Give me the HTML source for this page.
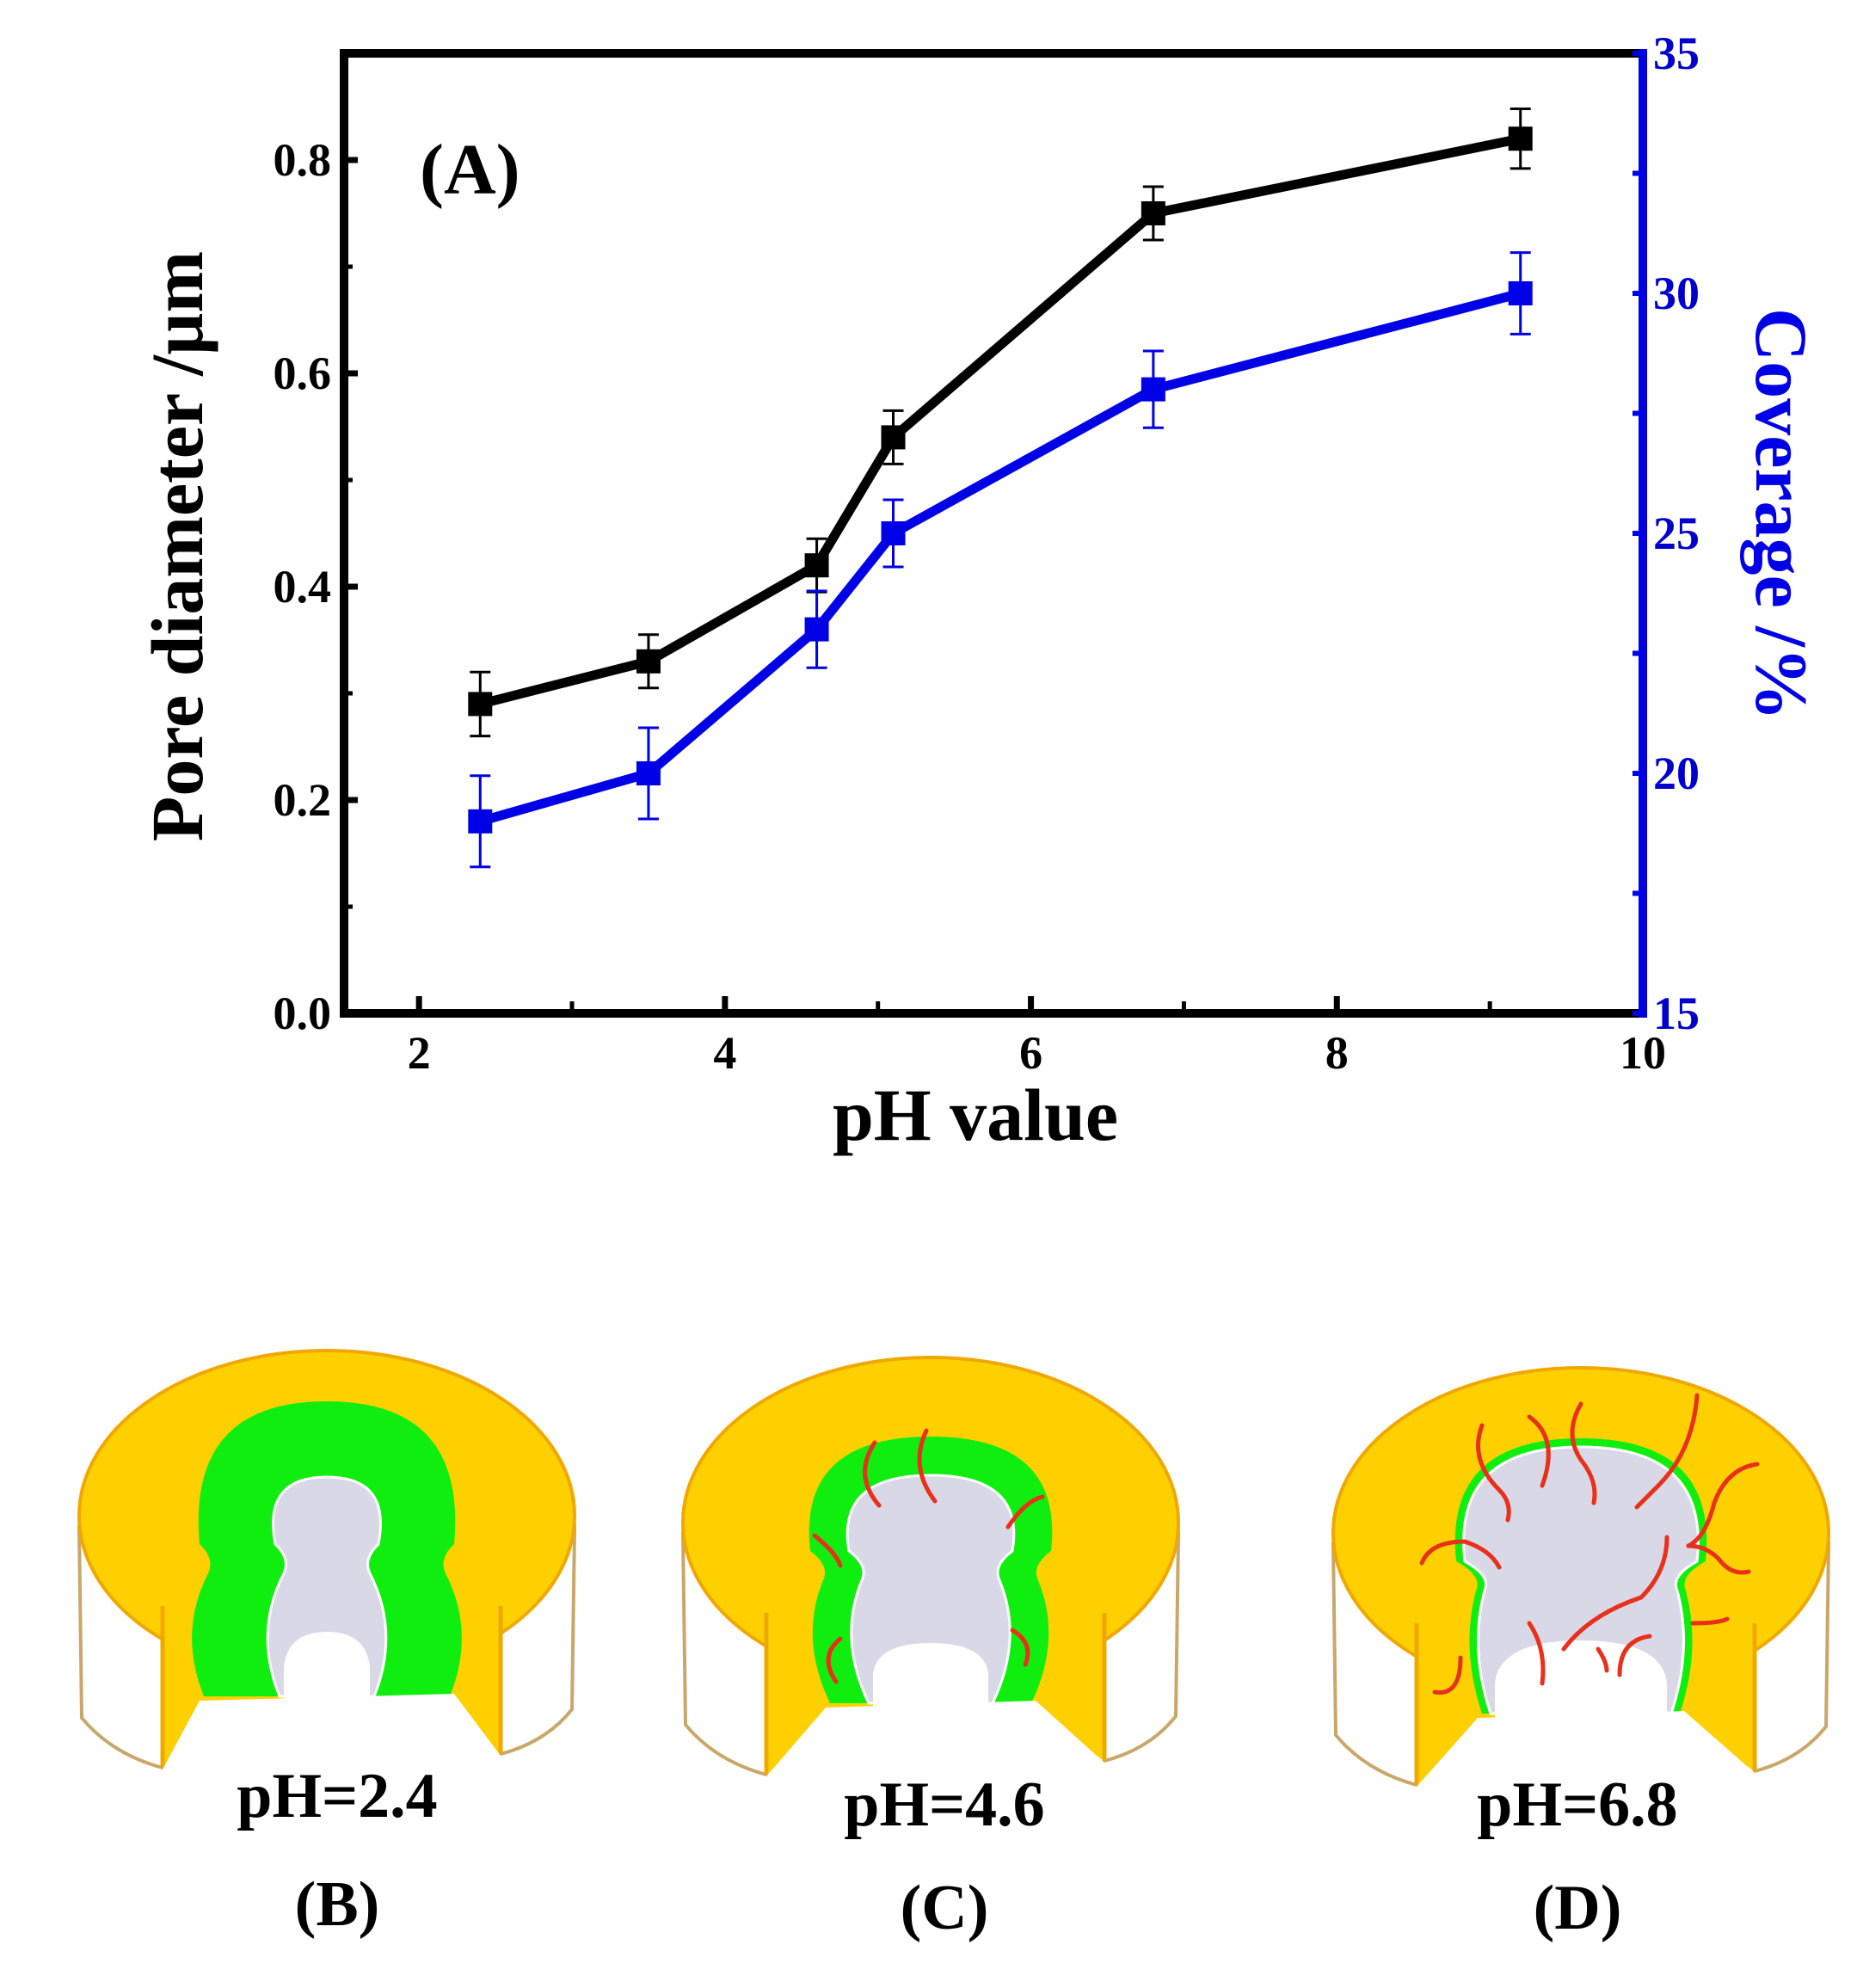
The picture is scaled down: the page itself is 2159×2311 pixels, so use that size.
<!DOCTYPE html>
<html><head><meta charset="utf-8"><style>
html,body{margin:0;padding:0;background:#fff;}
svg{display:block;}
text{font-family:"Liberation Serif",serif;}
</style></head><body>
<svg id="fig" width="2159" height="2311" viewBox="0 0 2159 2311" xmlns="http://www.w3.org/2000/svg">
<g id="chart"></g>
<g id="illus"></g>
<g font-weight="bold" font-size="74" text-anchor="middle" fill="#000">
<text x="392" y="2112">pH=2.4</text>
<text x="1098" y="2122">pH=4.6</text>
<text x="1834" y="2122">pH=6.8</text>
<text x="392" y="2238">(B)</text>
<text x="1098" y="2242">(C)</text>
<text x="1834" y="2242">(D)</text>
</g>
</svg>
<script>
const phValues = [2.4, 3.5, 4.6, 5.1, 6.8, 9.2];
const poreDiameter = [0.29, 0.33, 0.42, 0.54, 0.75, 0.82];
const poreErr = [0.03, 0.025, 0.025, 0.025, 0.025, 0.028];
const coverage = [19, 20, 23, 25, 28, 30];
const coverageErr = [0.95, 0.95, 0.8, 0.7, 0.8, 0.85];
const xTicks = [2, 4, 6, 8, 10];
const yLeftTicks = [0.0, 0.2, 0.4, 0.6, 0.8];
const yRightTicks = [15, 20, 25, 30, 35];

const NS = 'http://www.w3.org/2000/svg';
const L = 400, R = 1910, T = 62, B = 1178;
const X0 = 1.51, X1 = 10, YL0 = 0, YL1 = 0.9, YR0 = 15, YR1 = 35;
function sx(v){ return L + (v - X0) / (X1 - X0) * (R - L); }
function syL(v){ return B - (v - YL0) / (YL1 - YL0) * (B - T); }
function syR(v){ return B - (v - YR0) / (YR1 - YR0) * (B - T); }
const chart = document.getElementById('chart');
function mk(tag, attrs, parent){
  const e = document.createElementNS(NS, tag);
  for (const k in attrs) e.setAttribute(k, attrs[k]);
  (parent || chart).appendChild(e);
  return e;
}
let e = mk('path', {d:`M${R},${T} L${L},${T} L${L},${B} L${R},${B}`, fill:'none', stroke:'#000', 'stroke-width':10});


e = mk('line', {x1:R, y1:T-5, x2:R, y2:B+5, stroke:'#0000e6', 'stroke-width':10});


for (let v = 2; v <= 9.01; v += 1) {
  const major = Math.abs(v % 2) < 0.01;
  e = mk('line', {x1:sx(v), y1:B, x2:sx(v), y2:B-(major?20:14), stroke:'#000', 'stroke-width':major?7:5});
  
  
}
xTicks.forEach(v => {
  const t = mk('text', {x:sx(v), y:1242, 'font-size':54, 'font-weight':'bold', 'text-anchor':'middle', fill:'#000'});
  t.textContent = String(v);
  
  
});
for (let i = 0; i <= 8; i++) {
  const v = i * 0.1;
  const major = i % 2 === 0;
  e = mk('line', {x1:L, y1:syL(v), x2:L+(major?16:10), y2:syL(v), stroke:'#000', 'stroke-width':major?7:5});
  
  
}
yLeftTicks.forEach(v => {
  const t = mk('text', {x:385, y:syL(v)+18, 'font-size':54, 'font-weight':'bold', 'text-anchor':'end', fill:'#000'});
  t.textContent = v.toFixed(1);
  
  
});
for (let v = 15; v <= 35; v += 2.5) {
  e = mk('line', {x1:R, y1:syR(v), x2:R-12, y2:syR(v), stroke:'#0000e6', 'stroke-width':6});
  
  
}
yRightTicks.forEach(v => {
  const t = mk('text', {x:1922, y:syR(v)+18, 'font-size':54, 'font-weight':'bold', 'text-anchor':'start', fill:'#0000cc'});
  t.textContent = String(v);
  
  
});
let t = mk('text', {x:1134, y:1325, 'font-size':86, 'font-weight':'bold', 'text-anchor':'middle', fill:'#000'});
t.textContent = 'pH value';


t = mk('text', {x:0, y:0, 'font-size':86, 'font-weight':'bold', 'text-anchor':'middle', fill:'#000', transform:'translate(235,635) rotate(-90)'});
t.textContent = 'Pore diameter /\u00b5m';


t = mk('text', {x:0, y:0, 'font-size':86, 'font-weight':'bold', 'text-anchor':'middle', fill:'#0000e6', transform:'translate(2042,598) rotate(90)'});
t.textContent = 'Coverage /%';


t = mk('text', {x:488, y:225, 'font-size':84, 'font-weight':'bold', fill:'#000'});
t.textContent = '(A)';


function series(vals, errs, sy, color, name){
  const g = mk('g', {});
  
  
  const pts = phValues.map((x,i) => sx(x)+','+sy(vals[i])).join(' ');
  const pl = mk('polyline', {points:pts, fill:'none', stroke:color, 'stroke-width':11, 'stroke-linejoin':'miter'}, g);
  
  
  phValues.forEach((x,i) => {
    const cx = sx(x), y1 = sy(vals[i]+errs[i]), y2 = sy(vals[i]-errs[i]);
    const eb = mk('path', {d:`M${cx},${y1} L${cx},${y2} M${cx-12},${y1} L${cx+12},${y1} M${cx-12},${y2} L${cx+12},${y2}`, stroke:color, 'stroke-width':3, fill:'none'}, g);
    
    
    const m = mk('rect', {x:cx-14, y:sy(vals[i])-14, width:28, height:28, fill:color}, g);
    
    
  });
}
series(poreDiameter, poreErr, syL, '#000', 'pore-diameter-series');
series(coverage, coverageErr, syR, '#0000e6', 'coverage-series');

const illus = document.getElementById('illus');
function pore(p){
  const {top, hw, nw, bw, bot} = p;
  return `M${-bot},405 Q${-bw-10},330 ${-nw},262 Q${-nw+8},245 ${-hw+5},228 Q${-hw-10},${top} 0,${top} Q${hw+10},${top} ${hw-5},228 Q${nw-8},245 ${nw},262 Q${bw+10},330 ${bot},405 Z`;
}
function panel(cx, cy, p, reds, name){
  const g = document.createElementNS(NS, 'g');
  g.setAttribute('transform', `translate(${cx},${cy})`);
  
  
  illus.appendChild(g);
  const add = (tag, a) => mk(tag, a, g);
  add('path', {d:'M-288,210 L-285,430 Q-250,472 -191,488 L-191,300 Z', fill:'#fff', stroke:'#c9a76a', 'stroke-width':4});
  add('path', {d:'M288,210 L285,420 Q255,458 202,472 L202,300 Z', fill:'#fff', stroke:'#c9a76a', 'stroke-width':4});
  add('ellipse', {cx:0, cy:195, rx:288, ry:192, fill:'#ffd000', stroke:'#f0a800', 'stroke-width':4});
  add('path', {d:'M-280,230 L-191,300 L-191,488 L-100,418 L105,410 L202,472 L202,300 L280,230 Z', fill:'#ffd000'});
  add('path', {d:'M-191,300 L-191,488 M202,300 L202,472', stroke:'#f0a800', 'stroke-width':5});
  const gp = {top:p.top-p.t, hw:p.hw+p.t, nw:p.nw+p.t, bw:p.bw+p.t, bot:p.bot+p.t};
  add('path', {d:pore(gp), fill:'#10ee10'});
  add('path', {d:pore(p), fill:'#d9d8e6', stroke:'#fff', 'stroke-width':3});
  add('path', {d:`M${-p.bot+5},410 L${-p.bot+5},370 Q${-p.bot+10},${p.arch} 0,${p.arch} Q${p.bot-10},${p.arch} ${p.bot-5},370 L${p.bot-5},410 Z`, fill:'#fff'});
  add('path', {d:`M-191,490 L${-gp.bot-5},410 L${gp.bot+5},402 L202,474 L202,520 L-191,520 Z`, fill:'#fff'});
  reds.forEach(d => add('path', {d:d, fill:'none', stroke:'#e8301a', 'stroke-width':5, 'stroke-linecap':'round'}));
}
panel(380, 1567, {top:150, hw:65, nw:50, bw:75, bot:55, t:88, arch:330}, [], 'pore-illustration-b');
panel(1082, 1575, {top:140, hw:100, nw:80, bw:98, bot:72, t:45, arch:335}, [
 'M-65,102 Q-90,140 -60,175', 'M-5,88 Q-25,130 5,170', 'M-135,210 Q-110,230 -105,245', 'M90,200 Q110,170 130,165',
 'M95,320 Q120,335 110,360', 'M-110,380 Q-130,350 -105,330'], 'pore-illustration-c');
panel(1838, 1587, {top:95, hw:140, nw:112, bw:120, bot:105, t:10, arch:320}, [
 'M-115,70 Q-130,110 -95,145 Q-80,160 -85,180', 'M-60,60 Q-25,85 -45,140', 'M0,45 Q-20,80 0,110 Q20,135 15,160',
 'M135,35 Q130,100 90,140 Q70,160 65,165', 'M205,115 Q170,120 155,160 Q145,200 125,210', 'M-185,230 Q-175,205 -135,205 Q-105,215 -95,235',
 'M195,240 Q175,245 160,225 Q145,210 125,210', 'M-170,380 Q-140,385 -140,340', 'M-60,300 Q-40,330 -45,370', 'M-20,330 Q10,290 70,270 Q100,240 100,200',
 'M20,330 Q30,345 30,355', 'M45,360 Q45,320 80,315', 'M130,300 Q160,300 170,295'], 'pore-illustration-d');
</script>
</body></html>
